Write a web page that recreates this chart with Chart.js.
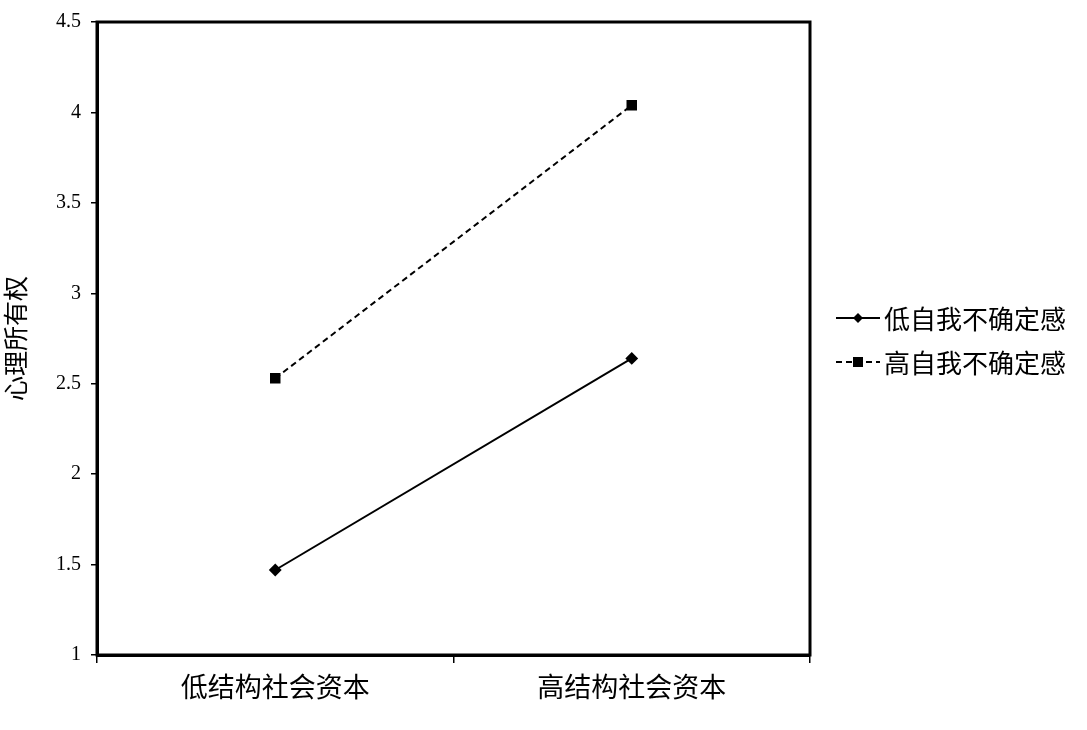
<!DOCTYPE html>
<html>
<head>
<meta charset="utf-8">
<script src="https://cdn.jsdelivr.net/npm/chart.js@4/dist/chart.umd.min.js"></script>
<style>
  html, body { margin: 0; padding: 0; background: #fff; }
  #wrap { width: 1087px; height: 730px; position: relative; }
</style>
</head>
<body>
<div id="wrap"><canvas id="chart"></canvas></div>
<script>
const categories = ['低结构社会资本', '高结构社会资本'];
const lowUncertainty = [1.47, 2.64];
const highUncertainty = [2.53, 4.04];
const seriesNames = ['低自我不确定感', '高自我不确定感'];
const yTicks = [1, 1.5, 2, 2.5, 3, 3.5, 4, 4.5];
const yTitle = '心理所有权';

const serif = '"Liberation Serif", "Times New Roman", "Noto Sans CJK SC", serif';
const cjk = '"Noto Sans CJK SC", "Liberation Serif", serif';

// frame round the plot plus the hand drawn legend on the right
const framePlugin = {
    id: 'frame',
    afterDraw(chart) {
        const c = chart.ctx;
        const a = chart.chartArea;
        c.save();
        c.strokeStyle = '#000';
        c.lineWidth = 3;
        c.strokeRect(a.left, a.top, a.right - a.left, a.bottom - a.top);

        const items = chart.data.datasets;
        items.forEach((ds, i) => {
            const y = 318 + i * 44;
            c.strokeStyle = '#000';
            c.lineWidth = 2;
            c.setLineDash(ds.borderDash || []);
            c.beginPath();
            c.moveTo(836, y);
            c.lineTo(880, y);
            c.stroke();
            c.setLineDash([]);
            c.fillStyle = '#000';
            if (ds.pointStyle === 'rect') {
                c.fillRect(853, y - 5, 10, 10);
            } else {
                c.beginPath();
                c.moveTo(858, y - 5);
                c.lineTo(863, y);
                c.lineTo(858, y + 5);
                c.lineTo(853, y);
                c.closePath();
                c.fill();
            }
            c.font = '26px ' + cjk;
            c.textBaseline = 'middle';
            c.fillText(ds.label, 884, y + 1);
        });
        c.restore();
    }
};

const ctx = document.getElementById('chart').getContext('2d');
new Chart(ctx, {
    type: 'line',
    data: {
        labels: categories,
        datasets: [{
            label: seriesNames[0],
            data: lowUncertainty,
            borderColor: '#000',
            backgroundColor: '#000',
            borderWidth: 2,
            pointStyle: 'rectRot',
            pointRadius: 5,
            pointHoverRadius: 5
        }, {
            label: seriesNames[1],
            data: highUncertainty,
            borderColor: '#000',
            backgroundColor: '#000',
            borderWidth: 2,
            borderDash: [6, 4],
            pointStyle: 'rect',
            pointRadius: 6,
            pointHoverRadius: 6
        }]
    },
    options: {
        responsive: true,
        maintainAspectRatio: false,
        animation: false,
        layout: { padding: { top: 20, right: 277, left: 0, bottom: 0 } },
        plugins: {
            legend: { display: false },
            tooltip: { enabled: false }
        },
        scales: {
            x: {
                offset: true,
                grid: {
                    offset: true,
                    drawOnChartArea: false,
                    drawTicks: true,
                    tickLength: 8,
                    color: '#000',
                    lineWidth: 1.5
                },
                border: { color: '#000', width: 3 },
                ticks: {
                    color: '#000',
                    font: { family: cjk, size: 27 },
                    padding: 8
                },
                afterFit(scale) { scale.height = 75; }
            },
            y: {
                min: 1,
                max: 4.5,
                afterBuildTicks(scale) {
                    scale.ticks = yTicks.map(v => ({ value: v }));
                },
                grid: {
                    drawOnChartArea: false,
                    drawTicks: true,
                    tickLength: 6,
                    color: '#000',
                    lineWidth: 1.5
                },
                border: { color: '#000', width: 3 },
                ticks: {
                    color: '#000',
                    font: { family: serif, size: 20 },
                    padding: 10,
                    callback: v => String(v)
                },
                title: {
                    display: true,
                    text: yTitle,
                    color: '#000',
                    font: { family: cjk, size: 25 },
                    padding: { top: 0, bottom: 6 }
                },
                afterFit(scale) { scale.width = 97; }
            }
        }
    },
    plugins: [framePlugin]
});
</script>
</body>
</html>
